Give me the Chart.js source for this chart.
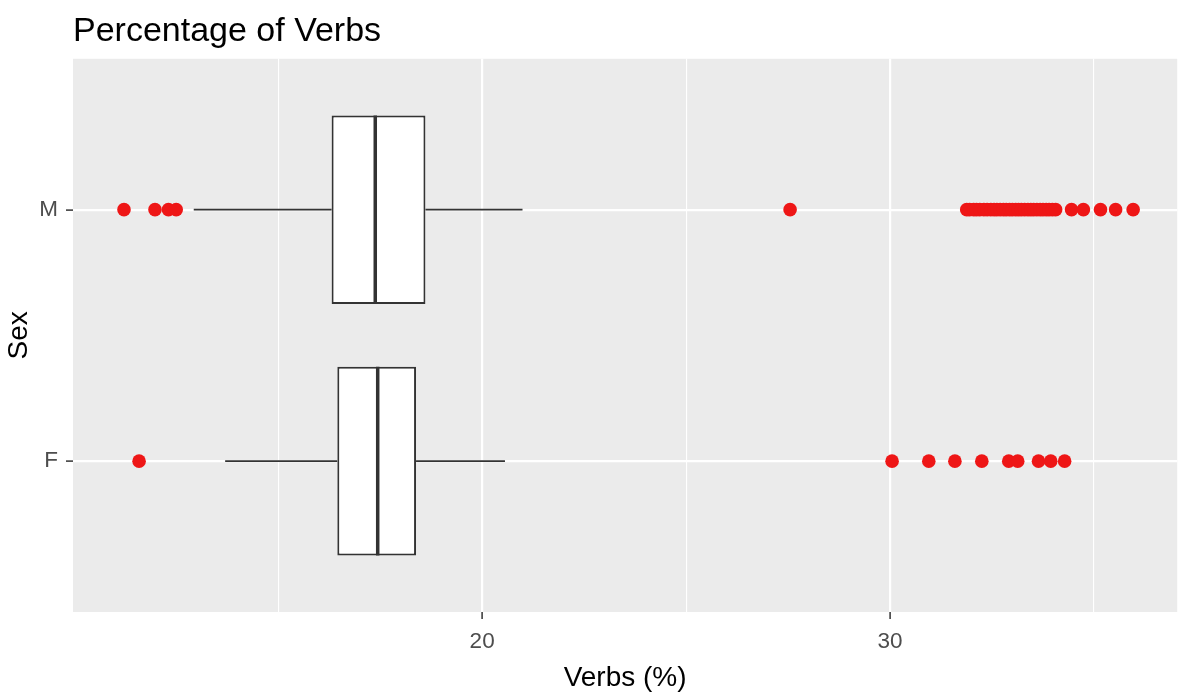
<!DOCTYPE html>
<html>
<head>
<meta charset="utf-8">
<script src="https://cdn.jsdelivr.net/npm/chart.js@4.4.1/dist/chart.umd.min.js"></script>
<style>
    html, body { margin: 0; padding: 0; background: #fff; }
    #wrap { width: 1184px; height: 696px; }
</style>
</head>
<body>
<div id="wrap"><canvas id="verbsChart" width="1184" height="696"></canvas></div>
<script>
// groups, top to bottom
const groups = ['M', 'F'];
const groupPos = [2, 1];

// box stats per group (Verbs %)
const whiskerLow = [12.93, 13.70];
const q1 = [16.31, 16.45];
const median = [17.38, 17.44];
const q3 = [18.61, 18.38];
const whiskerHigh = [20.99, 20.56];

// outliers
const outliersM = [11.22, 11.98, 12.31, 12.50, 27.55,
    31.88, 31.95, 32.05, 32.12, 32.20, 32.30, 32.38, 32.47, 32.55, 32.62,
    32.70, 32.78, 32.85, 32.93, 33.00, 33.08, 33.15, 33.22, 33.30, 33.38,
    33.45, 33.52, 33.60, 33.68, 33.75, 33.83, 33.90, 33.98, 34.06,
    34.45, 34.74, 35.16, 35.53, 35.96];
const outliersF = [11.59, 30.05, 30.95, 31.59, 32.25, 32.91, 33.13, 33.64, 33.94, 34.28];

// axis ticks
const xMajorTicks = [20, 30];
const xMinorTicks = [15, 25, 35];

const FONT = '"Liberation Sans", Arial, sans-serif';
const boxLine = '#333333';
const pointRed = '#ee1616';

const boxExtras = {
    id: 'boxExtras',
    beforeDraw(chart) {
        const { ctx, chartArea: a } = chart;
        ctx.save();
        ctx.fillStyle = '#EBEBEB';
        ctx.fillRect(a.left, a.top, a.right - a.left, a.bottom - a.top);
        ctx.restore();
    },
    beforeDatasetsDraw(chart) {
        const { ctx, scales: { x, y } } = chart;
        ctx.save();
        ctx.strokeStyle = boxLine;
        ctx.lineWidth = 1.6;
        groupPos.forEach((pos, i) => {
            const py = y.getPixelForValue(pos);
            ctx.beginPath();
            ctx.moveTo(x.getPixelForValue(whiskerLow[i]), py);
            ctx.lineTo(x.getPixelForValue(q1[i]), py);
            ctx.moveTo(x.getPixelForValue(q3[i]), py);
            ctx.lineTo(x.getPixelForValue(whiskerHigh[i]), py);
            ctx.stroke();
        });
        ctx.restore();
    },
    afterDatasetDraw(chart, args) {
        if (args.index !== 0) return;
        const { ctx, scales: { x } } = chart;
        const meta = chart.getDatasetMeta(0);
        ctx.save();
        ctx.strokeStyle = boxLine;
        ctx.lineWidth = 3.5;
        meta.data.forEach((bar, i) => {
            const px = x.getPixelForValue(median[i]);
            const half = bar.height / 2;
            ctx.beginPath();
            ctx.moveTo(px, bar.y - half);
            ctx.lineTo(px, bar.y + half);
            ctx.stroke();
        });
        ctx.restore();
    }
};

const isMajor = v => xMajorTicks.includes(v);

new Chart(document.getElementById('verbsChart'), {
    type: 'bar',
    data: {
        datasets: [{
            type: 'bar',
            indexAxis: 'y',
            data: groupPos.map((pos, i) => ({ x: [q1[i], q3[i]], y: pos })),
            backgroundColor: '#ffffff',
            borderColor: boxLine,
            borderWidth: 2,
            borderSkipped: false,
            categoryPercentage: 1,
            barPercentage: 0.75
        }, {
            type: 'scatter',
            data: outliersM.map(v => ({ x: v, y: groupPos[0] })),
            backgroundColor: pointRed,
            borderWidth: 0,
            pointRadius: 6.8
        }, {
            type: 'scatter',
            data: outliersF.map(v => ({ x: v, y: groupPos[1] })),
            backgroundColor: pointRed,
            borderWidth: 0,
            pointRadius: 6.8
        }]
    },
    options: {
        responsive: false,
        animation: false,
        layout: { padding: { left: 0, right: 3, top: 0, bottom: 0 } },
        plugins: {
            legend: { display: false },
            tooltip: { enabled: false },
            title: {
                display: true,
                text: 'Percentage of Verbs',
                align: 'start',
                fullSize: false,
                color: '#000000',
                font: { family: FONT, size: 34, weight: 'normal', lineHeight: 1.2 },
                padding: { top: 11, bottom: 7 }
            }
        },
        scales: {
            x: {
                type: 'linear',
                offset: false,
                min: 9.97,
                max: 37.04,
                afterBuildTicks: scale => {
                    scale.ticks = [...xMinorTicks, ...xMajorTicks].sort((a, b) => a - b).map(v => ({ value: v }));
                },
                afterFit: scale => { scale.height = 84; },
                border: { display: false },
                grid: {
                    offset: false,
                    color: '#ffffff',
                    lineWidth: c => (c.tick && isMajor(c.tick.value)) ? 2.2 : 1.1,
                    tickLength: 7,
                    tickColor: c => (c.tick && isMajor(c.tick.value)) ? boxLine : 'rgba(0,0,0,0)',
                    tickWidth: 1.5
                },
                ticks: {
                    autoSkip: false,
                    maxRotation: 0,
                    padding: 9,
                    color: '#4D4D4D',
                    font: { family: FONT, size: 22.5 },
                    callback: v => isMajor(v) ? String(v) : ''
                },
                title: {
                    display: true,
                    text: 'Verbs (%)',
                    color: '#000000',
                    font: { family: FONT, size: 28 },
                    padding: { top: 0, bottom: 1 }
                }
            },
            y: {
                type: 'linear',
                offset: false,
                min: 0.4,
                max: 2.6,
                afterBuildTicks: scale => {
                    scale.ticks = groupPos.map(v => ({ value: v }));
                },
                afterFit: scale => { scale.width = 73; },
                border: { display: false },
                grid: {
                    offset: false,
                    color: '#ffffff',
                    lineWidth: 2.2,
                    tickLength: 7,
                    tickColor: boxLine,
                    tickWidth: 1.5
                },
                ticks: {
                    autoSkip: false,
                    padding: 8,
                    color: '#4D4D4D',
                    font: { family: FONT, size: 22.5 },
                    callback: v => groups[groupPos.indexOf(v)] ?? ''
                },
                title: {
                    display: true,
                    text: 'Sex',
                    color: '#000000',
                    font: { family: FONT, size: 28 },
                    padding: { top: 2, bottom: 0 }
                }
            }
        }
    },
    plugins: [boxExtras]
});
</script>
</body>
</html>
